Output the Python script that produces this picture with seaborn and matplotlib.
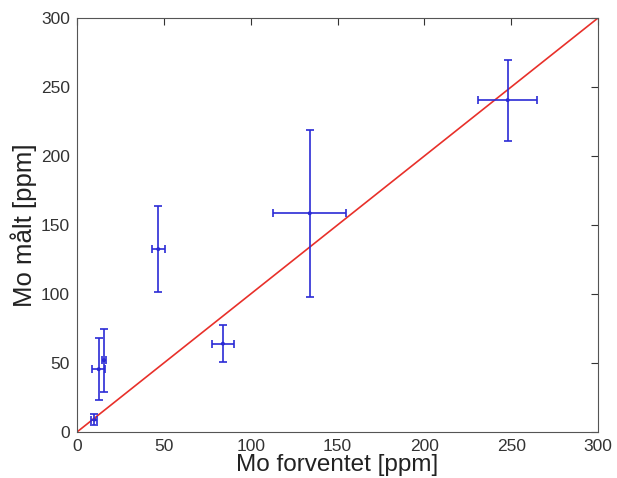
import matplotlib
matplotlib.use("Agg")
import matplotlib.pyplot as plt
import seaborn as sns
import pandas as pd

# Data
expected = [10, 12.5, 15.5, 46.8, 84, 134, 248]
measured = [9, 45.5, 52, 132.5, 64, 158.5, 240.5]
x_err = [1.7, 3.7, 1.0, 3.6, 6.2, 21, 17]
y_err = [4, 22.5, 22.7, 31, 13.5, 60.4, 29.3]
ref_line = [0, 300]
ticks = [0, 50, 100, 150, 200, 250, 300]

df = pd.DataFrame({"expected": expected, "measured": measured})
line_df = pd.DataFrame({"x": ref_line, "y": ref_line})

sns.set_theme(style="white")
plt.rcParams['font.family'] = ['Liberation Sans', 'DejaVu Sans']

fig = plt.figure(figsize=(6.17, 4.78), dpi=100)
ax = fig.add_axes([77/617, 46/478, 521/617, 414/478])

sns.lineplot(data=line_df, x="x", y="y", color="#e8302a", lw=1.2, ax=ax)
ax.errorbar(expected, measured, xerr=x_err, yerr=y_err, fmt="none",
            ecolor="#2b2bd6", elinewidth=1.2, capsize=3, capthick=1.2)
sns.scatterplot(data=df, x="expected", y="measured", color="#1a1ad0",
                s=8, edgecolor="none", ax=ax)

ax.set_xlim(0, 300)
ax.set_ylim(0, 300)
ax.set_xticks(ticks)
ax.set_yticks(ticks)
ax.tick_params(direction="in", top=True, right=True, length=5, width=0.8,
               labelsize=12.5, colors="#333333", pad=5)
for s in ax.spines.values():
    s.set_color("#555555")
    s.set_linewidth(0.8)
ax.set_xlabel("Mo forventet [ppm]", fontsize=17.5, color="#222222", va="center")
ax.set_ylabel("Mo målt [ppm]", fontsize=18.5, color="#222222", va="center")
ax.xaxis.set_label_coords(0.5, (432 - 465) / 414)
ax.yaxis.set_label_coords((24 - 77) / 521, 0.5)

fig.savefig("out.png", dpi=100)
